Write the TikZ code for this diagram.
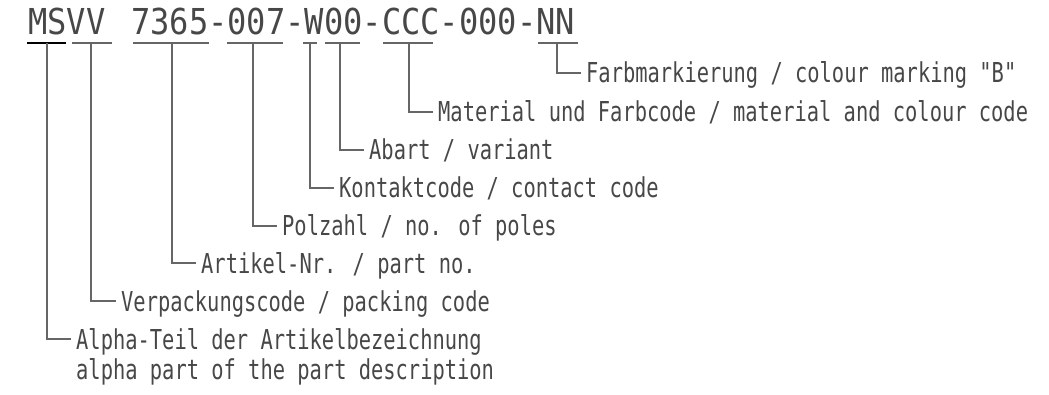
\documentclass[tikz,border=0pt]{standalone}
\usepackage{fontspec}
\newfontfamily\labfont[FakeStretch=0.745]{DejaVu Sans Mono}
\newfontfamily\codefont[FakeStretch=0.898]{DejaVu Sans Mono}
\begin{document}
\begin{tikzpicture}[x=1pt,y=-1pt,
  conn/.style={draw=black!60,line width=1.1pt},
  uline/.style={draw=black!60,line width=1.2pt},
  ulinehi/.style={draw=black,line width=2.2pt},
  lab/.style={inner ysep=0pt,inner xsep=5pt,text height=20pt,text depth=0pt,anchor=west,
    text=black!72,font=\labfont\fontsize{27.4}{30}\selectfont},
  codetext/.style={inner sep=0pt,anchor=base west,text=black!72,
    font=\codefont\fontsize{35.7}{40}\selectfont}]
\useasboundingbox (0,0) rectangle (1049,395);
% code
\node[codetext] (code1) at (28,35) {MSVV};
\node[codetext] (code2) at (131,35) {7365-007-W00-CCC-000-NN};
% underline coordinates
\coordinate (msL) at (27,43);  \coordinate (msR) at (66,43);  \coordinate (ms) at (47,43);
\coordinate (vvL) at (72,43);  \coordinate (vvR) at (112,43); \coordinate (vv) at (91,43);
\coordinate (arL) at (133,43); \coordinate (arR) at (209,43); \coordinate (ar) at (172,43);
\coordinate (plL) at (227,43); \coordinate (plR) at (283,43); \coordinate (pl) at (253,43);
\coordinate (kcL) at (303,43); \coordinate (kcR) at (317,43); \coordinate (kc) at (310,43);
\coordinate (abL) at (325,43); \coordinate (abR) at (360,43); \coordinate (ab) at (340,43);
\coordinate (mcL) at (383,43); \coordinate (mcR) at (433,43); \coordinate (mc) at (409,43);
\coordinate (fmL) at (538,43); \coordinate (fmR) at (578,43); \coordinate (fm) at (557,43);
\draw[ulinehi] (msL) -- (msR);
\foreach \u in {vv,ar,pl,kc,ab,mc,fm}{\draw[uline] (\u L) -- (\u R);}
% labels
\node[lab] (tfm) at (581,73) {Farbmarkierung / colour marking "B"};
\node[lab] (tmc) at (433,112) {Material und Farbcode / material and colour code};
\node[lab] (tab) at (364,150) {Abart / variant};
\node[lab] (tkc) at (334,188) {Kontaktcode / contact code};
\node[lab] (tpl) at (277,226) {Polzahl / no. of poles};
\node[lab] (tar) at (196,263) {Artikel-Nr. / part no.};
\node[lab] (tvv) at (116,301) {Verpackungscode / packing code};
\node[lab] (tms) at (71,339) {Alpha-Teil der Artikelbezeichnung};
\node[lab,anchor=north west] (tms2) at (tms.south west) [yshift=-10pt] {alpha part of the part description};
% connectors
\draw[conn] (fm) |- (tfm.west);
\draw[conn] (mc) |- (tmc.west);
\draw[conn] (ab) |- (tab.west);
\draw[conn] (kc) |- (tkc.west);
\draw[conn] (pl) |- (tpl.west);
\draw[conn] (ar) |- (tar.west);
\draw[conn] (vv) |- (tvv.west);
\draw[conn] (ms) |- (tms.west);
\end{tikzpicture}
\end{document}
